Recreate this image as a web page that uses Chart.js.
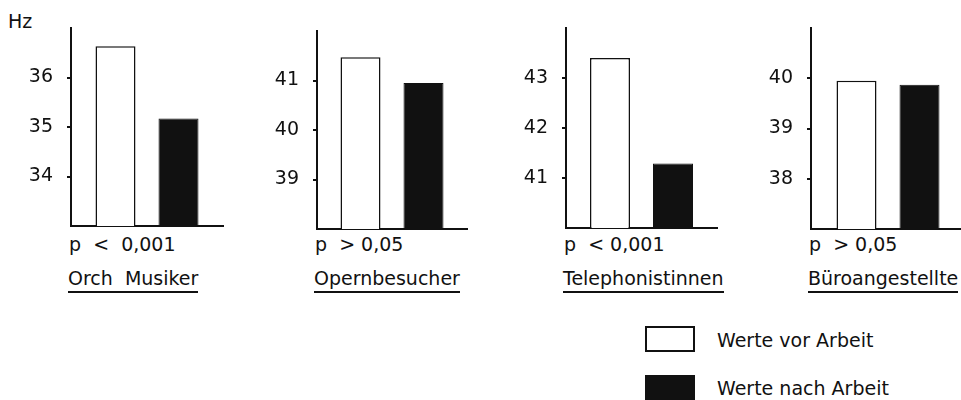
<!DOCTYPE html>
<html>
<head>
<meta charset="utf-8">
<script src="https://cdn.jsdelivr.net/npm/chart.js@4/dist/chart.umd.min.js"></script>
<style>
  body { margin: 0; background: #fff; width: 961px; height: 400px; position: relative; overflow: hidden;
         font-family: "DejaVu Sans", sans-serif; color: #111; }
  canvas { position: absolute; }
  .txt { position: absolute; font-size: 19px; line-height: 19px; white-space: pre; }
  .name span { display: inline-block; border-bottom: 2px solid #111; padding-bottom: 3px; }
  .key { position: absolute; box-sizing: border-box; border: 2px solid #111; }
</style>
</head>
<body>
<div class="txt" style="left:8px;top:12px">Hz</div>
<div id="labels"></div>
<div class="key" style="left:645px;top:326px;width:50px;height:26px;background:#fff"></div>
<div class="key" style="left:645px;top:375px;width:50px;height:25px;background:#111"></div>
<div class="txt" id="leg0" style="left:717px;top:331px"></div>
<div class="txt" id="leg1" style="left:717px;top:379px"></div>

<script>
// data
const groups = ['Orch  Musiker', 'Opernbesucher', 'Telephonistinnen', 'Büroangestellte'];
const pValues = ['p  <  0,001', 'p  > 0,05', 'p  < 0,001', 'p  > 0,05'];
const vorArbeit = [36.63, 41.47, 43.4, 39.95];
const nachArbeit = [35.17, 40.95, 41.29, 39.87];
const axisMin = [33, 38, 40, 37];
const axisMax = [37, 42, 44, 41];
const seriesNames = ['Werte vor Arbeit', 'Werte nach Arbeit'];

// where each little panel sits on the page
const panels = [
  { axisX: 71,  top: 28, bottom: 226, width: 152 },
  { axisX: 317, top: 31, bottom: 229, width: 150 },
  { axisX: 566, top: 28, bottom: 228, width: 151 },
  { axisX: 811, top: 28, bottom: 229, width: 154 }
];

const INK = '#111';
const Y_W = 50;
const PAD_TOP = 10, PAD_BOTTOM = 4;

document.getElementById('leg0').textContent = seriesNames[0];
document.getElementById('leg1').textContent = seriesNames[1];

const labelBox = document.getElementById('labels');

panels.forEach((p, i) => {
  const c = document.createElement('canvas');
  const w = Y_W + p.width + 2;
  const h = (p.bottom - p.top) + PAD_TOP + PAD_BOTTOM;
  c.width = w; c.height = h;
  c.style.left = (p.axisX - Y_W) + 'px';
  c.style.top = (p.top - PAD_TOP) + 'px';
  c.style.width = w + 'px';
  c.style.height = h + 'px';
  document.body.appendChild(c);

  const min = axisMin[i], max = axisMax[i];

  new Chart(c, {
    type: 'bar',
    data: {
      labels: [groups[i]],
      datasets: [
        { label: seriesNames[0], data: [vorArbeit[i]], backgroundColor: '#fff', borderColor: INK, borderWidth: 1.5 },
        { label: seriesNames[1], data: [nachArbeit[i]], backgroundColor: INK, borderColor: INK, borderWidth: 1 }
      ]
    },
    options: {
      responsive: false,
      animation: false,
      devicePixelRatio: 1,
      layout: { padding: { top: PAD_TOP, bottom: PAD_BOTTOM, left: 0, right: 2 } },
      datasets: { bar: { categoryPercentage: 126 / p.width, barPercentage: 40 / 63 } },
      plugins: { legend: { display: false }, tooltip: { enabled: false } },
      scales: {
        x: {
          ticks: { display: false },
          grid: { display: false },
          border: { color: INK, width: 2 },
          afterFit: s => { s.height = 0; s.paddingLeft = 0; s.paddingRight = 0; }
        },
        y: {
          min: min, max: max,
          afterFit: s => { s.width = Y_W; s.paddingTop = 0; s.paddingBottom = 0; },
          ticks: {
            stepSize: 1,
            padding: 14,
            color: INK,
            font: { family: 'DejaVu Sans', size: 19 },
            callback: v => (v === min || v === max) ? '' : v
          },
          grid: {
            drawOnChartArea: false,
            tickLength: 4,
            lineWidth: 2,
            color: ctx => (ctx.tick && (ctx.tick.value === min || ctx.tick.value === max)) ? 'rgba(0,0,0,0)' : INK
          },
          border: { color: INK, width: 2 }
        }
      }
    }
  });

  const pv = document.createElement('div');
  pv.className = 'txt';
  pv.style.left = (p.axisX - 2) + 'px';
  pv.style.top = '235px';
  pv.textContent = pValues[i];
  labelBox.appendChild(pv);

  const nm = document.createElement('div');
  nm.className = 'txt name';
  nm.style.left = (p.axisX - 3) + 'px';
  nm.style.top = '269px';
  const sp = document.createElement('span');
  sp.textContent = groups[i];
  nm.appendChild(sp);
  labelBox.appendChild(nm);
});
</script>
</body>
</html>
